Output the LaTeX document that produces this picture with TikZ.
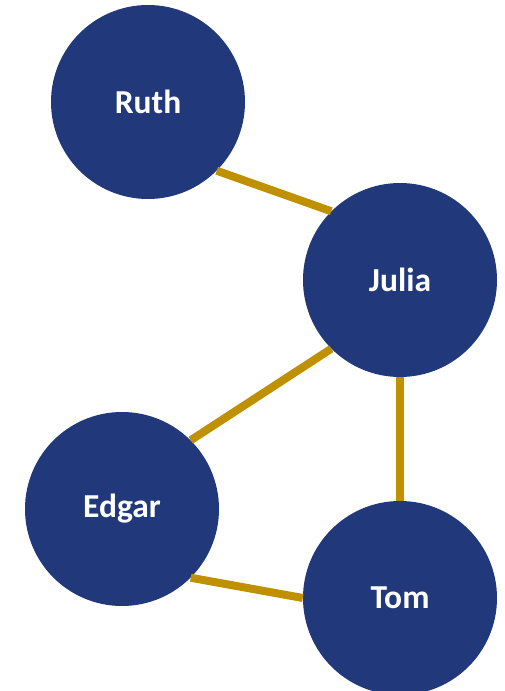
\documentclass[tikz,border=0pt]{standalone}
\usepackage{fontspec}
\setmainfont{Carlito}
\usepackage{tikz}
\usetikzlibrary{positioning}
\definecolor{navyblue}{RGB}{33,56,123}
\definecolor{goldline}{RGB}{191,144,0}

\begin{document}
\begin{tikzpicture}[
  x=1pt, y=1pt,
  every node/.style={font=\bfseries\fontsize{33.5}{40}\selectfont},
  person/.style={circle, fill=navyblue, text=white, minimum size=194pt,
                 inner sep=0pt},
  tie/.style={draw=goldline, line width=8pt}
]
\useasboundingbox (0,0) rectangle (504,691);

% people
\node[person] (ruth)  at (148,589) {Ruth};
\node[person] (julia) at (400,411) {Julia};
\node[person] (edgar) at (122,182) {Edgar};
\node[person] (tom)   at (400,93)  {Tom};

% ties
\foreach \i/\j in {ruth.south east/julia.north west,
                   julia.south west/edgar.north east,
                   julia.south/tom.north,
                   edgar.south east/tom.west}
  \draw[tie] (\i) -- (\j);
\end{tikzpicture}
\end{document}
